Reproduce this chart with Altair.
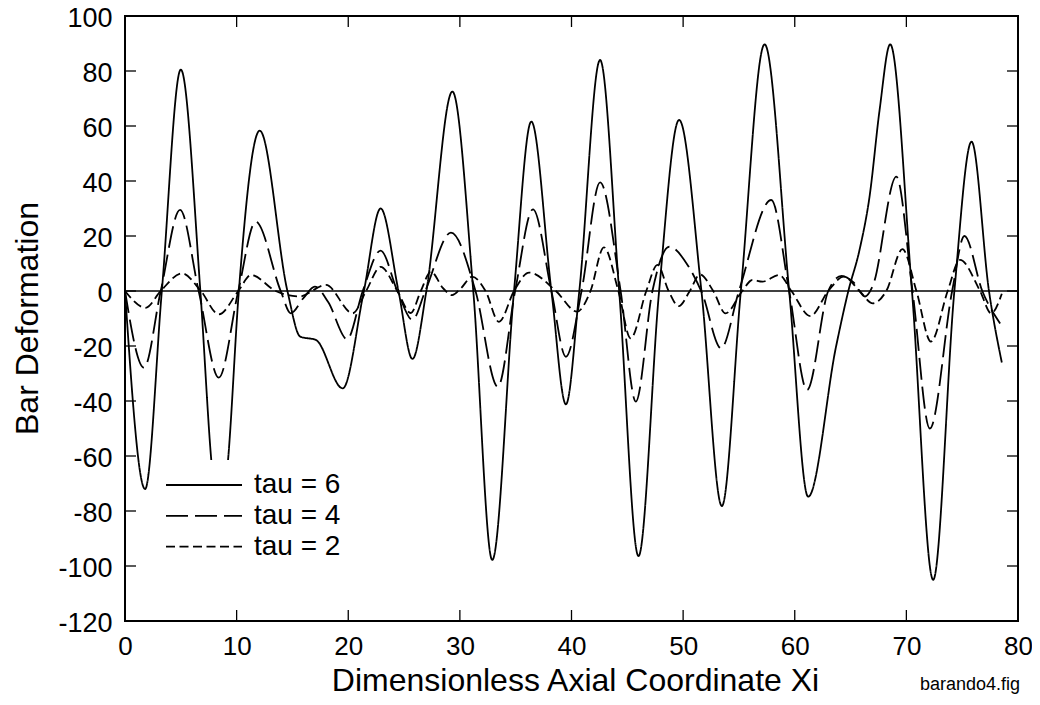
import altair as alt
import pandas as pd

# ---------------- data ----------------
series_names = ["tau = 6", "tau = 4", "tau = 2"]

x_tau6 = [0, 1.8, 3.3, 5.0, 6.75, 7.73, 8.45, 9.23, 10.2, 12.07, 14.55, 15.7, 17.1, 19.5, 21.4,
          22.9, 24.5, 25.75, 27.0, 29.33, 31.2, 32.9, 34.85, 36.4, 38.2, 39.5, 40.7, 42.56, 44.27,
          46.0, 47.85, 49.64, 51.64, 53.47, 55.17, 57.3, 59.5, 61.2, 63.7, 64.8, 65.8, 66.7, 67.6,
          68.55, 70.5, 72.4, 74.3, 75.84, 77.4, 78.55]
y_tau6 = [0, -72, 0, 80.5, 0, -61.5, -88, -61.5, 0, 58.3, 0, -16.6, -17.8, -35.4, 0,
          30, 0, -24.7, 0, 72.5, 0, -97.8, 0, 61.6, 0, -41.2, 0, 84, 0,
          -96.4, 0, 62.2, 0, -78.2, 0, 89.7, 0, -74.8, -20.2, 0, 14.9, 34.3, 65.8,
          89.7, 0, -105, 0, 54.3, 0, -26]

x_tau4 = [0, 1.7, 3.2, 4.93, 6.6, 8.4, 10.15, 11.7, 13.95, 14.85, 16.0, 17.0, 18.2, 19.9, 21.3,
          22.9, 24.4, 25.75, 26.9, 29.2, 31.4, 33.4, 34.95, 36.55, 38.2, 39.5, 40.9, 42.56, 44.4,
          45.76, 47.25, 48.75, 50.5, 51.7, 53.4, 55.0, 57.9, 59.5, 61.1, 63.0, 64.2, 65.3, 66.3,
          67.0, 69.1, 70.55, 72.1, 74.1, 75.2, 76.8, 78.4]
y_tau4 = [0, -27.9, 0, 29.5, 0, -31.5, 0, 25.2, 0, -8.1, -2.5, 1.6, -4, -17.5, 0,
          14.7, 0, -10.5, 0, 21.2, 0, -34.8, 0, 29.7, 0, -23.9, 0, 39.5, 0,
          -40.2, 0, 16.1, 8.8, -0.8, -20.8, 0, 33.1, 0, -36, 0, 5.5, 3, -2,
          2, 41.6, 0, -50, 0, 20, 0, -11.8]

x_tau2 = [0, 1.85, 3.2, 5.1, 6.8, 8.4, 10.15, 11.3, 13.5, 15.6, 18.0, 20.4, 21.6, 22.9, 24.4,
          25.6, 26.5, 27.4, 28.5, 29.3, 30.1, 31.1, 32.3, 33.5, 34.85, 36.2, 38.6, 40.5, 41.7,
          42.9, 44.2, 45.3, 46.7, 47.7, 48.7, 49.6, 50.6, 51.5, 52.7, 53.8, 55.3, 56.2, 57.1,
          58.6, 59.7, 61.4, 63.0, 64.4, 65.8, 67.0, 68.2, 69.65, 70.9, 72.2, 73.7, 74.8, 76.6,
          77.6, 78.55]
y_tau2 = [0, -6.1, 0, 6.4, 0, -8.5, 0, 5.8, 0, -2, 2.2, -8.1, 0, 8.8, 0,
          -8, 0, 7, 1, -1.5, 1, 5.2, 0, -11.2, 0, 6.7, 0, -7.5, 0,
          15.9, 0, -17.2, 0, 9.5, 0, -5.5, 0, 6, 0, -8.1, 0, 4, 3.4,
          5.8, 0, -9.1, 0, 5.2, 0, -4.5, 0, 15.2, 0, -18.4, 0, 11.3, 0,
          -8.1, -1]

x_ticks = [0, 10, 20, 30, 40, 50, 60, 70, 80]
y_ticks = [-120, -100, -80, -60, -40, -20, 0, 20, 40, 60, 80, 100]

x_title = "Dimensionless Axial Coordinate Xi"
y_title = "Bar Deformation"
file_note = "barando4.fig"

# ---------------- layout / style ----------------
W, H = 893, 605
Y_MIN, Y_MAX = -120, 100
FONT = "Liberation Sans"
TICK = 11

rows = []
for name, xs, ys in zip(series_names, [x_tau6, x_tau4, x_tau2], [y_tau6, y_tau4, y_tau2]):
    for i, (a, b) in enumerate(zip(xs, ys)):
        rows.append({"series": name, "xi": a, "val": b, "i": i})
df = pd.DataFrame(rows)

xscale = alt.Scale(domain=[0, 80], nice=False, zero=False)
yscale = alt.Scale(domain=[Y_MIN, Y_MAX], nice=False, zero=False)
dash_scale = alt.Scale(domain=series_names, range=[[1, 0], [22, 7], [9, 4.5]])

x_axis = alt.Axis(values=x_ticks, title=x_title, ticks=False, domain=False, grid=False,
                  labelFont=FONT, labelFontSize=26, labelColor="black", labelPadding=12,
                  labelFlush=False, labelOverlap=False, labelExpr="datum.value + ''",
                  titleFont=FONT, titleFontSize=32, titleFontWeight="normal", titleColor="black",
                  titleX=450, titleY=69, titleAlign="center", titleBaseline="alphabetic")
y_axis = alt.Axis(values=y_ticks, title=y_title, ticks=False, domain=False, grid=False,
                  labelFont=FONT, labelFontSize=27, labelColor="black", labelPadding=13,
                  labelOffset=2,
                  labelFlush=False, labelOverlap=False, labelExpr="datum.value + ''",
                  titleFont=FONT, titleFontSize=32, titleFontWeight="normal", titleColor="black",
                  titleX=-88, titleY=302, titleAngle=270, titleAlign="center",
                  titleBaseline="alphabetic")


def X(field):
    return alt.X(field, scale=xscale, axis=x_axis, title=x_title)


def Y(field):
    return alt.Y(field, scale=yscale, axis=y_axis, title=y_title)


lines = alt.Chart(df).mark_line(color="black", strokeWidth=1.8, interpolate="monotone").encode(
    x=X("xi:Q"),
    y=Y("val:Q"),
    strokeDash=alt.StrokeDash("series:N", scale=dash_scale, legend=None),
    order="i:Q",
)

zero_line = alt.Chart(pd.DataFrame({"z": [0]})).mark_rule(color="black", strokeWidth=1.5).encode(
    y=Y("z:Q"),
)

xt = pd.DataFrame({"t": x_ticks})
yt = pd.DataFrame({"t": y_ticks})
tick_style = dict(color="black", strokeWidth=1.3)
ticks_bottom = alt.Chart(xt).mark_rule(**tick_style).encode(
    x=X("t:Q"), y=alt.value(H - TICK), y2=alt.value(H))
ticks_top = alt.Chart(xt).mark_rule(**tick_style).encode(
    x=X("t:Q"), y=alt.value(0), y2=alt.value(TICK))
ticks_left = alt.Chart(yt).mark_rule(**tick_style).encode(
    y=Y("t:Q"), x=alt.value(0), x2=alt.value(TICK))
ticks_right = alt.Chart(yt).mark_rule(**tick_style).encode(
    y=Y("t:Q"), x=alt.value(W - TICK), x2=alt.value(W))

# manual legend (white box drawn over the curves, as in the reference)
leg = pd.DataFrame({"series": series_names, "row": list(range(len(series_names)))})
legend_box = alt.Chart(pd.DataFrame({"k": [0]})).mark_rect(fill="white").encode(
    x=alt.value(32), x2=alt.value(224), y=alt.value(444), y2=alt.value(549))
# row centre in pixels -> data units of the shared y scale
leg_base = alt.Chart(leg).transform_calculate(
    ly=f"{Y_MAX} - (469 + datum.row * 30.8) * {Y_MAX - Y_MIN} / {H}")
legend_lines = leg_base.mark_rule(color="black", strokeWidth=1.8).encode(
    x=alt.value(41), x2=alt.value(117),
    y=Y("ly:Q"),
    strokeDash=alt.StrokeDash("series:N", scale=dash_scale, legend=None),
)
legend_text = leg_base.mark_text(font=FONT, fontSize=28, align="left", baseline="middle",
                                 color="black").encode(
    x=alt.value(129),
    y=Y("ly:Q"),
    text="series:N",
)

note = alt.Chart(pd.DataFrame({"label": [file_note]})).mark_text(
    font=FONT, fontSize=18, align="center", baseline="alphabetic", color="black").encode(
    x=alt.value(845), y=alt.value(674), text="label:N")

chart = alt.layer(
    lines, zero_line, ticks_bottom, ticks_top, ticks_left, ticks_right,
    legend_box, legend_lines, legend_text, note,
).properties(
    width=W, height=H,
    autosize=alt.AutoSizeParams(type="none"),
    padding={"left": 117, "top": 8, "right": 14, "bottom": 76},
).configure_view(stroke="black", strokeWidth=2)

chart.save("out.html", embed_options={"renderer": "svg", "actions": False})
